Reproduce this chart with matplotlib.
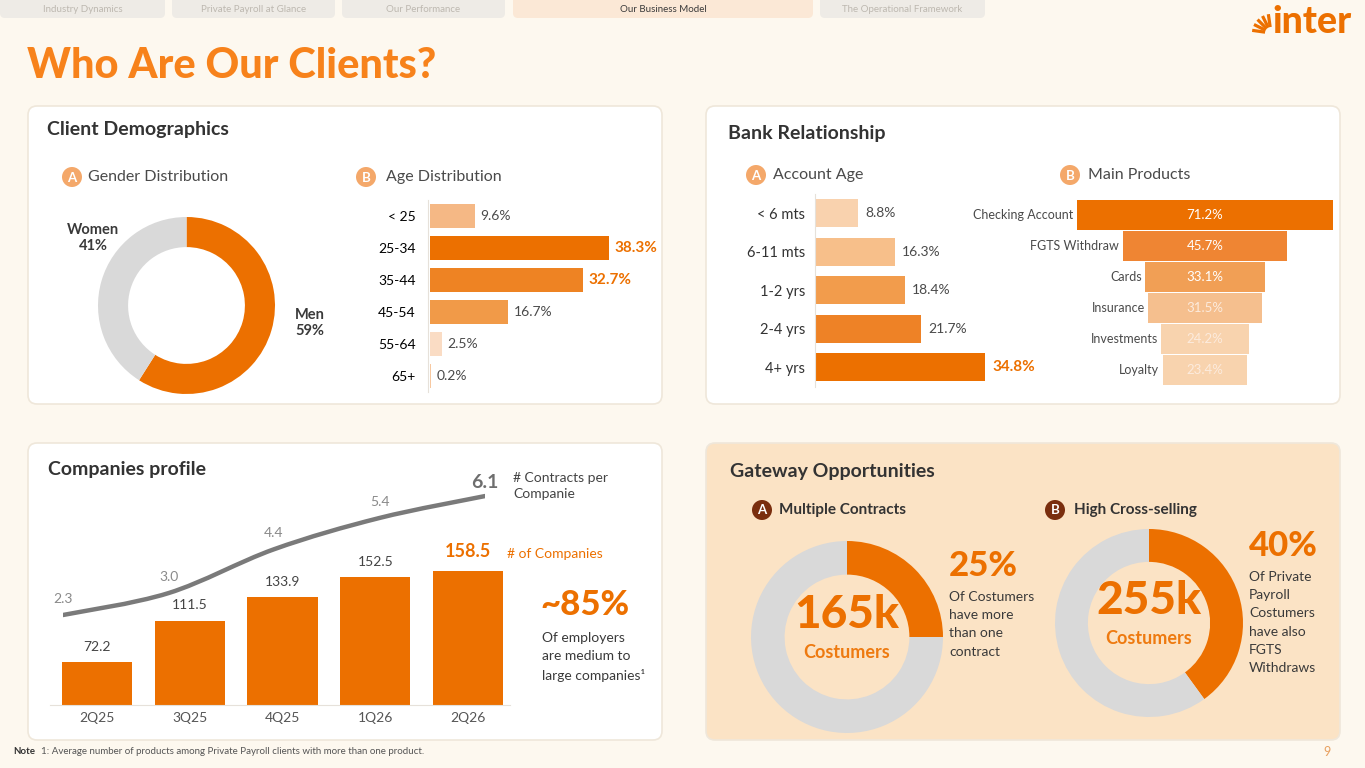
import numpy as np
import matplotlib
matplotlib.use('Agg')
import matplotlib.pyplot as plt
from matplotlib.patches import FancyBboxPatch, Circle, PathPatch
from matplotlib.path import Path

# Data
gender_labels = ['Men', 'Women']
gender_share = [59, 41]

age_groups = ['< 25', '25-34', '35-44', '45-54', '55-64', '65+']
age_share = [9.6, 38.3, 32.7, 16.7, 2.5, 0.2]

account_age = ['< 6 mts', '6-11 mts', '1-2 yrs', '2-4 yrs', '4+ yrs']
account_share = [8.8, 16.3, 18.4, 21.7, 34.8]

products = ['Checking Account', 'FGTS Withdraw', 'Cards', 'Insurance', 'Investments', 'Loyalty']
product_share = [71.2, 45.7, 33.1, 31.5, 24.2, 23.4]

quarters = ['2Q25', '3Q25', '4Q25', '1Q26', '2Q26']
companies = [72.2, 111.5, 133.9, 152.5, 158.5]
contracts_per_company = [2.3, 3.0, 4.4, 5.4, 6.1]

multi_contract_pct = 25
cross_sell_pct = 40

tabs = ['Industry Dynamics', 'Private Payroll at Glance', 'Our Performance',
        'Our Business Model', 'The Operational Framework']

# Colours
BG = '#FDF8EF'
ORANGE = '#EC7000'
TITLE_OR = '#F7821B'
GRAY_RING = '#D9D9D9'
DARK = '#333333'
TXT = '#4A4A4A'
PEACH = '#FBE3C5'

plt.rcParams['font.family'] = ['Lato', 'DejaVu Sans']

W, H = 1365, 768
fig = plt.figure(figsize=(W / 100, H / 100), dpi=100)
fig.patch.set_facecolor(BG)

bg = fig.add_axes([0, 0, 1, 1])
bg.set_xlim(0, W)
bg.set_ylim(H, 0)
bg.axis('off')


def px_axes(x0, y0, x1, y1):
    # axes placed in pixel coordinates (y measured from the top)
    return fig.add_axes([x0 / W, 1 - y1 / H, (x1 - x0) / W, (y1 - y0) / H])


def panel(x0, y0, x1, y1, face='white'):
    bg.add_patch(FancyBboxPatch((x0, y0), x1 - x0, y1 - y0,
                                boxstyle='round,pad=0,rounding_size=9',
                                fc=face, ec='#EFE7DA', lw=1.2, zorder=1))


def badge(x, y, letter, color):
    bg.add_patch(Circle((x, y), 10, fc=color, ec='none', zorder=3))
    bg.text(x, y + 0.5, letter, color='white', fontsize=9.5, fontweight='bold',
            ha='center', va='center', zorder=4)


# Tabs
tab_spans = [(0, 165), (172, 335), (342, 505), (513, 813), (820, 985)]
for (a, b), name in zip(tab_spans, tabs):
    active = name == 'Our Business Model'
    bg.add_patch(FancyBboxPatch((a, -8), b - a, 26, boxstyle='round,pad=0,rounding_size=5',
                                fc='#FBE8D6' if active else '#EEEBE6', ec='none', zorder=1))
    bg.text((a + b) / 2, 10, name, fontsize=7, ha='center', va='center',
            color='#3A3A3A' if active else '#BDB8B0')

# Logo
for a in np.linspace(8, 82, 5):
    t = np.radians(a)
    bg.plot([1271 - 6 * np.cos(t), 1271 - 19 * np.cos(t)],
            [33 - 6 * np.sin(t), 33 - 19 * np.sin(t)],
            color=ORANGE, lw=2.3, solid_capstyle='butt')
bg.text(1312, 22, 'inter', fontsize=27, fontweight='black', color=ORANGE,
        ha='center', va='center')

# Title
bg.text(27, 66, 'Who Are Our Clients?', fontsize=30, fontweight='black', color=TITLE_OR,
        ha='left', va='center')

# Panels
panel(28, 106, 662, 404)
panel(706, 106, 1340, 404)
panel(28, 443, 662, 740)
panel(706, 443, 1340, 740, face=PEACH)

# ---------- Client Demographics ----------
bg.text(47, 130, 'Client Demographics', fontsize=14, fontweight='bold', color=DARK, va='center')
badge(72, 177, 'A', '#F4A86A')
bg.text(88, 177, 'Gender Distribution', fontsize=11.5, color=TXT, va='center')
badge(366, 177, 'B', '#F4A86A')
bg.text(386, 177, 'Age Distribution', fontsize=11.5, color=TXT, va='center')

ax = px_axes(186.5 - 88.5, 305.5 - 88.5, 186.5 + 88.5, 305.5 + 88.5)
ax.pie(gender_share, colors=[ORANGE, GRAY_RING], startangle=90, counterclock=False,
       wedgeprops=dict(width=0.34, edgecolor='none'))
ax.set_xlim(-1, 1)
ax.set_ylim(-1, 1)
ax.axis('off')
bg.text(310, 323, f'{gender_labels[0]}\n{gender_share[0]}%', fontsize=10.5, fontweight='bold',
        color='#3A3A3A', ha='center', va='center', linespacing=1.1)
bg.text(93, 238, f'{gender_labels[1]}\n{gender_share[1]}%', fontsize=10.5, fontweight='bold',
        color='#3A3A3A', ha='center', va='center', linespacing=1.1)

age_colors = ['#F5B885', ORANGE, '#EE8323', '#F19A48', '#FADCC4', '#F7C8A0']
ax = px_axes(430, 200, 640, 392)
ax.barh(range(len(age_groups)), age_share, height=0.75, color=age_colors)
ax.set_xlim(0, 210 / 4.67)
ax.set_ylim(len(age_groups) - 0.5, -0.5)
ax.set_yticks(range(len(age_groups)))
ax.set_yticklabels(age_groups, fontsize=11.5, color=DARK)
ax.tick_params(axis='y', length=0, pad=9)
ax.set_xticks([])
ax.patch.set_visible(False)
for s in ['top', 'right', 'bottom']:
    ax.spines[s].set_visible(False)
ax.spines['left'].set_color('#E6E1DA')
ax.spines['left'].set_position(('data', -0.4))
top2 = sorted(age_share)[-2:]
for i, v in enumerate(age_share):
    big = v in top2
    ax.text(v + 1.2, i, f'{v}%', va='center', ha='left', fontsize=11 if big else 10,
            fontweight='bold' if big else 'normal', color=ORANGE if big else TXT)

# ---------- Bank Relationship ----------
bg.text(728, 134, 'Bank Relationship', fontsize=14, fontweight='bold', color=DARK, va='center')
badge(756, 175, 'A', '#F4A86A')
bg.text(773, 175, 'Account Age', fontsize=11.5, color=TXT, va='center')
badge(1070, 175, 'B', '#F4A86A')
bg.text(1088, 175, 'Main Products', fontsize=11.5, color=TXT, va='center')

acc_colors = ['#F9D2AE', '#F7BF8A', '#F29C4C', '#EE8226', ORANGE]
ax = px_axes(815, 194, 1045, 386.5)
ax.barh(range(len(account_age)), account_share, height=0.73, color=acc_colors)
ax.set_xlim(0, 230 / 4.885)
ax.set_ylim(len(account_age) - 0.5, -0.5)
ax.set_yticks(range(len(account_age)))
ax.set_yticklabels(account_age, fontsize=10.5, color=DARK)
ax.tick_params(axis='y', length=0, pad=7)
ax.set_xticks([])
ax.patch.set_visible(False)
for s in ['top', 'right', 'bottom']:
    ax.spines[s].set_visible(False)
ax.spines['left'].set_color('#E6E1DA')
for i, v in enumerate(account_share):
    big = v == max(account_share)
    ax.text(v + 1.5, i, f'{v}%', va='center', ha='left', fontsize=11 if big else 10,
            fontweight='bold' if big else 'normal', color=ORANGE if big else TXT)

prod_colors = [ORANGE, '#EF8533', '#F19F55', '#F5BF8E', '#F8D3AE', '#F8D3AE']
ax = px_axes(1060, 199.5, 1350, 385.5)
ax.barh(range(len(products)), product_share, left=[-v / 2 for v in product_share],
        height=0.96, color=prod_colors)
ax.set_xlim(-145 / 3.6, 145 / 3.6)
ax.set_ylim(len(products) - 0.5, -0.5)
ax.axis('off')
for i, (name, v) in enumerate(zip(products, product_share)):
    ax.text(-v / 2 - 1.0, i, name, ha='right', va='center', fontsize=9, color=TXT, clip_on=False)
    ax.text(0, i, f'{v}%', ha='center', va='center', fontsize=9.5,
            color='white' if i < 3 else '#FCEBDD')

# ---------- Companies profile ----------
bg.text(48, 470, 'Companies profile', fontsize=14, fontweight='bold', color=DARK, va='center')

ax = px_axes(50, 540, 510, 705)
xs = np.arange(len(quarters))
ax.bar(xs, companies, width=0.755, color=ORANGE)
ax.set_xlim(-(97 - 50) / 92.75, -(97 - 50) / 92.75 + 460 / 92.75)
ax.set_ylim(31.4, 31.4 + 165 / 1.0545)
ax.set_xticks(xs)
ax.set_xticklabels(quarters, fontsize=10, color='#555555')
ax.tick_params(axis='x', length=0, pad=5)
ax.set_yticks([])
ax.patch.set_visible(False)
for s in ['top', 'right', 'left']:
    ax.spines[s].set_visible(False)
ax.spines['bottom'].set_color('#E6E1DA')
for i, v in enumerate(companies):
    last = i == len(companies) - 1
    ax.annotate(f'{v}', (i, v), xytext=(0, 14 if last else 11), textcoords='offset points',
                ha='center', va='center', fontsize=13 if last else 10,
                fontweight='bold' if last else 'normal', color=ORANGE if last else '#444444')
bg.text(507, 554, '# of Companies', fontsize=10, color=ORANGE, va='center')

# smooth line for contracts per company (Catmull-Rom drawn as Bezier path)
ax = px_axes(63, 480, 485, 625)
ax.set_xlim(0, len(quarters) - 1)
ax.set_ylim(2.3 - 10 / 31.3, 2.3 + 135 / 31.3)
ax.axis('off')
pts = np.column_stack([xs, contracts_per_company]).astype(float)
ext = np.vstack([pts[0], pts, pts[-1]])
verts = [tuple(pts[0])]
codes = [Path.MOVETO]
for k in range(1, len(ext) - 2):
    p0, p1, p2, p3 = ext[k - 1], ext[k], ext[k + 1], ext[k + 2]
    verts += [tuple(p1 + (p2 - p0) / 6), tuple(p2 - (p3 - p1) / 6), tuple(p2)]
    codes += [Path.CURVE4] * 3
ax.add_patch(PathPatch(Path(verts, codes), fc='none', ec='#7A7A7A', lw=3.2, capstyle='round'))
for i, v in enumerate(contracts_per_company):
    last = i == len(contracts_per_company) - 1
    ax.annotate(f'{v}', (i, v), xytext=(0, 10 if last else 11.5), textcoords='offset points',
                ha='center', va='center', fontsize=14 if last else 10,
                fontweight='bold' if last else 'normal',
                color='#6E6E6E' if last else '#8A8A8A', annotation_clip=False)
bg.text(513, 486, '# Contracts per\nCompanie', fontsize=10, color='#444444', va='center',
        linespacing=1.45)

bg.text(540, 605, '~85%', fontsize=25, fontweight='black', color=ORANGE, va='center')
bg.text(542, 657, 'Of employers\nare medium to\nlarge companies¹', fontsize=10,
        color='#3A3A3A', va='center', linespacing=1.6)

# ---------- Gateway Opportunities ----------
bg.text(730, 471, 'Gateway Opportunities', fontsize=14, fontweight='bold', color=DARK, va='center')
badge(762, 510, 'A', '#7A2E0E')
bg.text(779, 510, 'Multiple Contracts', fontsize=11, fontweight='bold', color=DARK, va='center')
badge(1055, 510, 'B', '#7A2E0E')
bg.text(1074, 510, 'High Cross-selling', fontsize=11, fontweight='bold', color=DARK, va='center')

for (cx, cy, r), pct, big, sub, lines, ty in [
        ((847, 637, 96), multi_contract_pct, '165k', 'Costumers',
         'Of Costumers\nhave more\nthan one\ncontract', 566),
        ((1149, 623, 94), cross_sell_pct, '255k', 'Costumers',
         'Of Private\nPayroll\nCostumers\nhave also\nFGTS\nWithdraws', 546)]:
    ax = px_axes(cx - r, cy - r, cx + r, cy + r)
    ax.pie([pct, 100 - pct], colors=[ORANGE, GRAY_RING], startangle=90, counterclock=False,
           wedgeprops=dict(width=0.35, edgecolor='none'))
    ax.set_xlim(-1, 1)
    ax.set_ylim(-1, 1)
    ax.axis('off')
    bg.text(cx, cy - 22, big, fontsize=33, fontweight='black', color=ORANGE,
            ha='center', va='center')
    bg.text(cx, cy + 16, sub, fontsize=13, fontweight='bold', color='#EE7A10',
            ha='center', va='center')
    tx = cx + r + 6
    bg.text(tx, ty, f'{pct}%', fontsize=25, fontweight='black', color=ORANGE, va='center')
    bg.text(tx, ty + 25, lines, fontsize=10, color='#3A3A3A', va='top', linespacing=1.62)

# Footer
bg.text(13, 752, 'Note', fontsize=7, fontweight='bold', color=DARK, va='center')
bg.text(41, 752, '1: Average number of products among Private Payroll clients with more than one product.',
        fontsize=7, color='#555555', va='center')
bg.text(1327, 752, '9', fontsize=9, color='#E8A060', ha='center', va='center')

fig.savefig('out.png', dpi=100, facecolor=BG)
